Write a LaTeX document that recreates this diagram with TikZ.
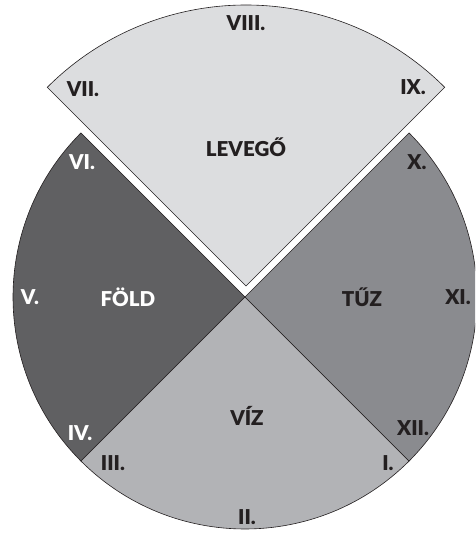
\documentclass[tikz,border=0pt]{standalone}
\usepackage{fontspec}
\setmainfont{Lato}[BoldFont={Lato Black}]
\definecolor{foldc}{HTML}{606062}
\definecolor{tuzc}{HTML}{8A8B8F}
\definecolor{vizc}{HTML}{B2B3B6}
\definecolor{levc}{HTML}{DCDDDF}
\definecolor{ink}{HTML}{231F20}
\tikzset{
  sector/.style={draw=ink, line width=0.6pt, line join=miter},
  lab/.style={font=\fontsize{20.5}{20.5}\selectfont\bfseries, text=ink, inner sep=0pt},
  wlab/.style={lab, text=white}
}
\begin{document}
\begin{tikzpicture}[x=1pt,y=1pt]
\useasboundingbox (0,0) rectangle (475,533);
\clip (0,0) rectangle (475,533);
\fill[white] (0,0) rectangle (475,533);
\coordinate (C) at (245,236);
\coordinate (A) at (246,247);
\def\R{232}
\def\RR{281}
% sectors
\draw[sector, fill=foldc] (C) -- ++(135:\R) arc[start angle=135, end angle=225, radius=\R] -- cycle;
\draw[sector, fill=vizc] (C) -- ++(225:\R) arc[start angle=225, end angle=315, radius=\R] -- cycle;
\draw[sector, fill=tuzc] (C) -- ++(-45:\R) arc[start angle=-45, end angle=45, radius=\R] -- cycle;
\draw[sector, fill=levc] (A) -- ++(45:\RR) arc[start angle=45, end angle=135, radius=\RR] -- cycle;
% labels
\node[lab] (l8) at (246,510) {VIII.};
\node[lab] (l7) at (83,444) {VII.};
\node[lab] (l9) at (413,446) {IX.};
\node[lab] (lev) at (246,386) {LEVEGŐ};
\node[wlab] (l6) at (82,371) {VI.};
\node[lab] (l10) at (417,371) {X.};
\node[wlab] (l5) at (30,236) {V.};
\node[wlab] (fold) at (128,236) {FÖLD};
\node[lab] (tuz) at (362,236) {TŰZ};
\node[lab] (l11) at (458,236) {XI.};
\node[wlab] (l4) at (80,100) {IV.};
\node[lab] (l12) at (413,105) {XII.};
\node[lab] (viz) at (247,117) {VÍZ};
\node[lab] (l3) at (113,70) {III.};
\node[lab] (l1) at (388,70) {I.};
\node[lab] (l2) at (247,16) {II.};
\end{tikzpicture}
\end{document}
